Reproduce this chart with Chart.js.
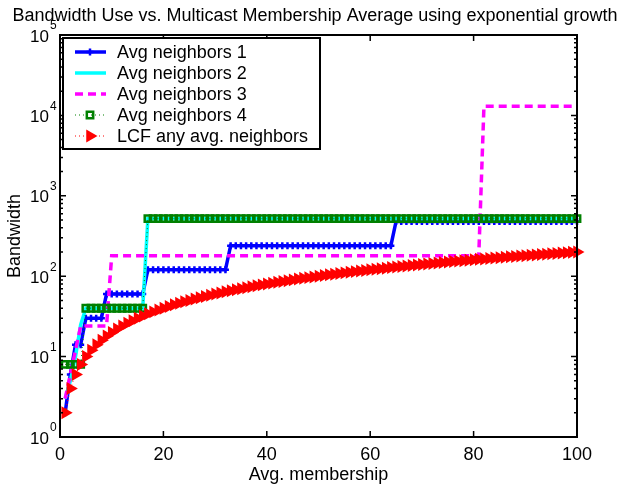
<!DOCTYPE html>
<html>
<head>
<meta charset="utf-8">
<script src="https://cdn.jsdelivr.net/npm/chart.js@4"></script>
<style>
  body { margin: 0; background: #fff; }
  #wrap { width: 628px; height: 487px; }
</style>
</head>
<body>
<div id="wrap"><canvas id="bwChart"></canvas></div>
<script>
const membership = [
  1, 2, 3, 4, 5, 6, 7, 8, 9, 10, 11, 12, 13, 14, 15, 16, 17, 18, 19, 20,
  21, 22, 23, 24, 25, 26, 27, 28, 29, 30, 31, 32, 33, 34, 35, 36, 37, 38, 39, 40,
  41, 42, 43, 44, 45, 46, 47, 48, 49, 50, 51, 52, 53, 54, 55, 56, 57, 58, 59, 60,
  61, 62, 63, 64, 65, 66, 67, 68, 69, 70, 71, 72, 73, 74, 75, 76, 77, 78, 79, 80,
  81, 82, 83, 84, 85, 86, 87, 88, 89, 90, 91, 92, 93, 94, 95, 96, 97, 98, 99, 100
];

const avgNeighbors1 = [
  2, 6, 14, 14, 30, 30, 30, 30, 60, 60, 60, 60, 60, 60, 60, 60,
  120, 120, 120, 120, 120, 120, 120, 120, 120, 120, 120, 120, 120, 120, 120, 120,
  240, 240, 240, 240, 240, 240, 240, 240, 240, 240, 240, 240, 240, 240, 240, 240,
  240, 240, 240, 240, 240, 240, 240, 240, 240, 240, 240, 240, 240, 240, 240, 240,
  480, 480, 480, 480, 480, 480, 480, 480, 480, 480, 480, 480, 480, 480, 480, 480,
  480, 480, 480, 480, 480, 480, 480, 480, 480, 480, 480, 480, 480, 480, 480, 480,
  480, 480, 480, 480
];

const avgNeighbors2 = [
  3, 5, 10, 25, 40, 40, 40, 40, 40, 40, 40, 40, 40, 40, 40, 40,
  520, 520, 520, 520, 520, 520, 520, 520, 520, 520, 520, 520, 520, 520, 520, 520,
  520, 520, 520, 520, 520, 520, 520, 520, 520, 520, 520, 520, 520, 520, 520, 520,
  520, 520, 520, 520, 520, 520, 520, 520, 520, 520, 520, 520, 520, 520, 520, 520,
  520, 520, 520, 520, 520, 520, 520, 520, 520, 520, 520, 520, 520, 520, 520, 520,
  520, 520, 520, 520, 520, 520, 520, 520, 520, 520, 520, 520, 520, 520, 520, 520,
  520, 520, 520, 520
];

const avgNeighbors3 = [
  3, 6, 12, 24, 24, 24, 24, 24, 24, 180, 180, 180, 180, 180, 180, 180,
  180, 180, 180, 180, 180, 180, 180, 180, 180, 180, 180, 180, 180, 180, 180, 180,
  180, 180, 180, 180, 180, 180, 180, 180, 180, 180, 180, 180, 180, 180, 180, 180,
  180, 180, 180, 180, 180, 180, 180, 180, 180, 180, 180, 180, 180, 180, 180, 180,
  180, 180, 180, 180, 180, 180, 180, 180, 180, 180, 180, 180, 180, 180, 180, 180,
  180, 13000, 13000, 13000, 13000, 13000, 13000, 13000, 13000, 13000, 13000, 13000, 13000, 13000, 13000, 13000,
  13000, 13000, 13000, 13000
];

const avgNeighbors4 = [
  8, 8, 8, 8, 40, 40, 40, 40, 40, 40, 40, 40, 40, 40, 40, 40,
  520, 520, 520, 520, 520, 520, 520, 520, 520, 520, 520, 520, 520, 520, 520, 520,
  520, 520, 520, 520, 520, 520, 520, 520, 520, 520, 520, 520, 520, 520, 520, 520,
  520, 520, 520, 520, 520, 520, 520, 520, 520, 520, 520, 520, 520, 520, 520, 520,
  520, 520, 520, 520, 520, 520, 520, 520, 520, 520, 520, 520, 520, 520, 520, 520,
  520, 520, 520, 520, 520, 520, 520, 520, 520, 520, 520, 520, 520, 520, 520, 520,
  520, 520, 520, 520
];

const lcfAny = [
  2, 4, 6, 8, 10, 12, 14, 16, 18, 20, 22, 24, 26, 28, 30, 32, 34, 36, 38, 40,
  42, 44, 46, 48, 50, 52, 54, 56, 58, 60, 62, 64, 66, 68, 70, 72, 74, 76, 78, 80,
  82, 84, 86, 88, 90, 92, 94, 96, 98, 100, 102, 104, 106, 108, 110, 112, 114, 116, 118, 120,
  122, 124, 126, 128, 130, 132, 134, 136, 138, 140, 142, 144, 146, 148, 150, 152, 154, 156, 158, 160,
  162, 164, 166, 168, 170, 172, 174, 176, 178, 180, 182, 184, 186, 188, 190, 192, 194, 196, 198, 200
];

const seriesNames = ['Avg neighbors 1', 'Avg neighbors 2', 'Avg neighbors 3', 'Avg neighbors 4', 'LCF any avg. neighbors'];
const xTicks = [0, 20, 40, 60, 80, 100];
const yExponents = [0, 1, 2, 3, 4, 5];
const chartTitle = 'Bandwidth Use vs. Multicast Membership Average using exponential growth';

const FONT = '"Liberation Sans", Arial, Helvetica, sans-serif';

function pts(ys) {
  return membership.map((m, i) => ({ x: m, y: ys[i] }));
}

function drawMarker(ctx, ds, x, y) {
  const r = ds.pointRadius;
  if (!r) return;
  ctx.save();
  ctx.lineWidth = ds.pointBorderWidth;
  ctx.strokeStyle = ds.pointBorderColor;
  ctx.fillStyle = ds.pointBackgroundColor;
  ctx.setLineDash([]);
  ctx.beginPath();
  if (ds.pointStyle === 'cross') {
    ctx.moveTo(x - r, y); ctx.lineTo(x + r, y);
    ctx.moveTo(x, y - r); ctx.lineTo(x, y + r);
    ctx.stroke();
  } else if (ds.pointStyle === 'rect') {
    const s = r * Math.SQRT1_2;
    ctx.rect(x - s, y - s, 2 * s, 2 * s);
    ctx.fill();
    ctx.stroke();
  } else if (ds.pointStyle === 'triangle') {
    ctx.moveTo(x + r, y);
    ctx.lineTo(x - r / 2, y - r * 0.866);
    ctx.lineTo(x - r / 2, y + r * 0.866);
    ctx.closePath();
    ctx.fill();
  }
  ctx.restore();
}

const matlabAxes = {
  id: 'matlabAxes',
  afterDatasetsDraw(chart) {
    const { ctx, chartArea: a } = chart;
    const xs = chart.scales.x, ys = chart.scales.y;
    ctx.save();

    // title
    ctx.fillStyle = '#000';
    ctx.font = '18px ' + FONT;
    ctx.textAlign = 'center';
    ctx.textBaseline = 'alphabetic';
    ctx.fillText(chartTitle, 315, 21);

    // inward ticks, MATLAB style
    ctx.strokeStyle = '#000';
    ctx.lineWidth = 1.5;
    ctx.beginPath();
    xTicks.forEach(v => {
      const px = xs.getPixelForValue(v);
      ctx.moveTo(px, a.bottom); ctx.lineTo(px, a.bottom - 6);
      ctx.moveTo(px, a.top); ctx.lineTo(px, a.top + 6);
    });
    yExponents.forEach(e => {
      const py = ys.getPixelForValue(Math.pow(10, e));
      ctx.moveTo(a.left, py); ctx.lineTo(a.left + 6, py);
      ctx.moveTo(a.right, py); ctx.lineTo(a.right - 6, py);
      if (e < 5) {
        for (let k = 2; k < 10; k++) {
          const pm = ys.getPixelForValue(k * Math.pow(10, e));
          ctx.moveTo(a.left, pm); ctx.lineTo(a.left + 3, pm);
          ctx.moveTo(a.right, pm); ctx.lineTo(a.right - 3, pm);
        }
      }
    });
    ctx.stroke();

    ctx.lineWidth = 2;
    ctx.strokeRect(a.left, a.top, a.right - a.left, a.bottom - a.top);

    // y tick labels as 10 with raised exponent
    ctx.textBaseline = 'middle';
    yExponents.forEach(e => {
      const py = ys.getPixelForValue(Math.pow(10, e));
      ctx.font = '17px ' + FONT;
      ctx.textAlign = 'right';
      ctx.fillText('10', 49, py + 2);
      ctx.font = '12px ' + FONT;
      ctx.textAlign = 'left';
      ctx.fillText(String(e), 50, py - 9);
    });

    // legend box inside the axes
    const lx = 63, ly = 38, lw = 257, lh = 111;
    ctx.fillStyle = '#fff';
    ctx.fillRect(lx, ly, lw, lh);
    ctx.lineWidth = 2;
    ctx.strokeStyle = '#000';
    ctx.strokeRect(lx, ly, lw, lh);
    chart.data.datasets.forEach((ds, i) => {
      const ry = 52 + i * 21;
      ctx.save();
      ctx.strokeStyle = ds.borderColor;
      ctx.lineWidth = ds.borderWidth;
      ctx.setLineDash(ds.borderDash || []);
      ctx.beginPath();
      ctx.moveTo(75, ry); ctx.lineTo(106, ry);
      ctx.stroke();
      ctx.restore();
      drawMarker(ctx, ds, 90, ry);
      ctx.fillStyle = '#000';
      ctx.font = '18px ' + FONT;
      ctx.textAlign = 'left';
      ctx.textBaseline = 'middle';
      ctx.fillText(seriesNames[i], 117, ry + 1);
    });
    ctx.restore();
  }
};

const datasets = [
  {
    label: seriesNames[0], data: pts(avgNeighbors1), order: 5,
    borderColor: '#0000ff', borderWidth: 3.5,
    pointStyle: 'cross', pointRadius: 3.5, pointBorderWidth: 2.5,
    pointBorderColor: '#0000ff', pointBackgroundColor: '#0000ff'
  },
  {
    label: seriesNames[1], data: pts(avgNeighbors2), order: 4,
    borderColor: '#00ffff', borderWidth: 3.5, pointRadius: 0
  },
  {
    label: seriesNames[2], data: pts(avgNeighbors3), order: 3,
    borderColor: '#ff00ff', borderWidth: 3.5, borderDash: [8, 5], pointRadius: 0
  },
  {
    label: seriesNames[3], data: pts(avgNeighbors4), order: 2,
    borderColor: '#008000', borderWidth: 1, borderDash: [1, 3],
    pointStyle: 'rect', pointRadius: 4.5, pointBorderWidth: 2.5,
    pointBorderColor: '#008000', pointBackgroundColor: 'rgba(0,0,0,0)'
  },
  {
    label: seriesNames[4], data: pts(lcfAny), order: 1,
    borderColor: '#ff0000', borderWidth: 1, borderDash: [1, 3],
    pointStyle: 'triangle', pointRotation: 90, pointRadius: 7.5, pointBorderWidth: 0,
    pointBorderColor: '#ff0000', pointBackgroundColor: '#ff0000'
  }
];
datasets.forEach(ds => { ds.clip = false; ds.fill = false; ds.tension = 0; });

Chart.defaults.font.family = FONT;
Chart.defaults.color = '#000';

new Chart(document.getElementById('bwChart'), {
  type: 'line',
  data: { datasets },
  options: {
    responsive: true,
    maintainAspectRatio: false,
    animation: false,
    events: [],
    layout: { padding: { top: 35, right: 51, bottom: 0, left: 0 } },
    plugins: {
      legend: { display: false },
      tooltip: { enabled: false },
      title: { display: false }
    },
    scales: {
      x: {
        type: 'linear', min: 0, max: 100,
        afterBuildTicks: scale => { scale.ticks = xTicks.map(v => ({ value: v })); },
        afterFit: scale => { scale.height = 50; },
        grid: { display: false, drawTicks: false },
        border: { display: false },
        ticks: { font: { size: 18 }, padding: 7, maxRotation: 0, autoSkip: false },
        title: { display: true, text: 'Avg. membership', font: { size: 18 }, padding: { top: 0, bottom: 1 } }
      },
      y: {
        type: 'logarithmic', min: 1, max: 100000,
        afterFit: scale => { scale.width = 60; },
        grid: { display: false, drawTicks: false },
        border: { display: false },
        ticks: { display: false },
        title: { display: true, text: 'Bandwidth', font: { size: 18 }, padding: { top: 4, bottom: 0 } }
      }
    }
  },
  plugins: [matlabAxes]
});
</script>
</body>
</html>
